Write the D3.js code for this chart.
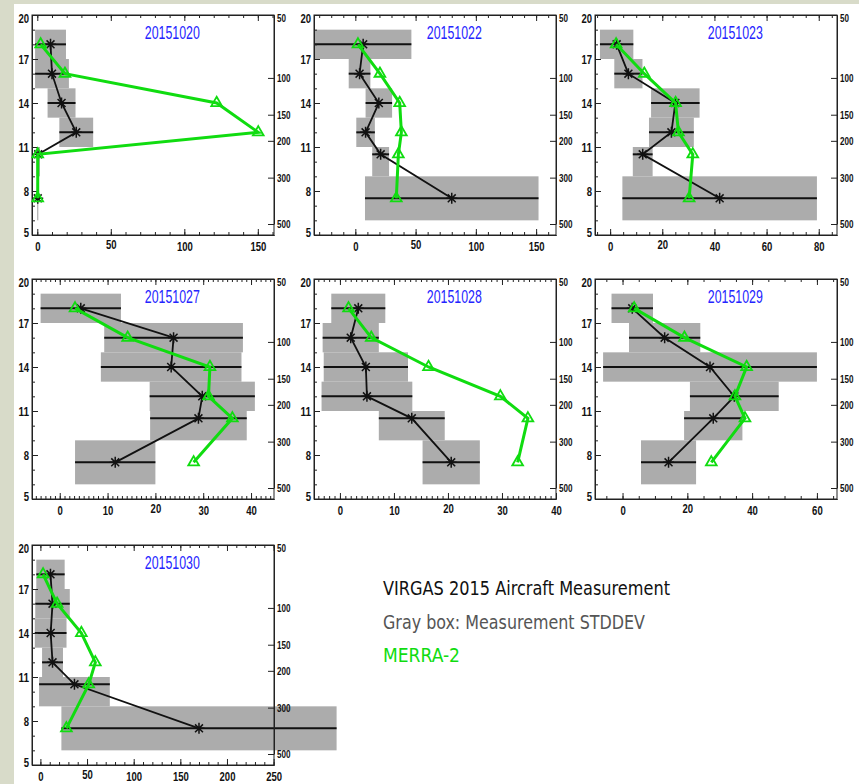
<!DOCTYPE html>
<html>
<head>
<meta charset="utf-8">
<script src="https://cdn.jsdelivr.net/npm/d3@7"></script>
<style>
body{margin:0;background:#fff;}
svg{display:block;}
</style>
</head>
<body>
<main></main>
<script>
// profiles: one row per flight day, one value per altitude level
var dates = ["20151020", "20151022", "20151023", "20151027", "20151028", "20151029", "20151030"];
var altitudes = [18, 16, 14, 12, 10.5, 7.5];
var layerLow = [17, 15, 13, 11, 9, 6];
var layerHigh = [19, 17, 15, 13, 11, 9];

var obsMean = [
  [9, 10, 16.5, 26.5, 0.6, 0.3],
  [6.5, 3.5, 19.5, 8.5, 21, 80],
  [2.5, 7, 25, 23.5, 12.5, 42],
  [4.4, 23.8, 23.3, 29.8, 29, 11.6],
  [3.4, 2, 4.8, 5, 13.3, 20.6],
  [3, 13, 27, 34.5, 28, 14.2],
  [10.8, 13, 11, 13, 36.5, 170]
];
var obsStd = [
  [10.5, 11.5, 9.5, 11.5, 1.2, 0.4],
  [40, 9, 11, 7.7, 7, 72],
  [6.4, 5.4, 9.3, 8.6, 3.8, 37.3],
  [8.4, 14.5, 14.7, 11, 10.1, 8.4],
  [5, 5.2, 7.8, 8.4, 6.1, 5.3],
  [6.4, 11, 33, 13.7, 9, 8.5],
  [15.2, 18.5, 17, 11.2, 37.9, 147.5]
];
var merra = [
  [2.3, 18.8, 122, 150.3, 0.3, 0.3],
  [2.2, 20.4, 36.8, 38.2, 35.7, 34],
  [2.3, 13.1, 25.1, 26.2, 31.7, 30.3],
  [3.2, 14.2, 31.4, 31.1, 36.1, 28],
  [1.6, 5.8, 16.4, 29.7, 34.8, 32.9],
  [3.6, 19.1, 38.3, 34.7, 37.8, 27.4],
  [2.9, 17.9, 43.9, 58.9, 51.8, 27.9]
];

var xMin = [-3.6, -34.3, -5.8, -5.8, -4.8, -8.5, -9];
var xMax = [161, 166.5, 87, 44.8, 40, 66.2, 250.4];
var xTicks = [
  [0, 50, 100, 150],
  [0, 50, 100, 150],
  [0, 20, 40, 60, 80],
  [0, 10, 20, 30, 40],
  [0, 10, 20, 30, 40],
  [0, 20, 40, 60],
  [0, 50, 100, 150, 200, 250]
];
var xMinorStep = [10, 10, 5, 1, 1, 5, 10];
var altTicks = [5, 8, 11, 14, 17, 20];
var presTicks = [50, 100, 150, 200, 300, 500];

var legendLines = ["VIRGAS 2015 Aircraft Measurement", "Gray box: Measurement STDDEV", "MERRA-2"];

var W = 859, H = 784;
var pw = 242, ph = 220;
var lefts = [32, 314, 595];
var tops = [15, 279, 545];
var green = "#10dc10";
var tickFont = "'Liberation Sans',Arial,sans-serif";
var legFont = "'DejaVu Sans Condensed','DejaVu Sans',sans-serif";

var svg = d3.select("main").append("svg")
  .attr("width", W).attr("height", H);

svg.append("rect").attr("width", W).attr("height", H).attr("fill", "#d8dbc9");
svg.append("rect").attr("x", 14).attr("y", 4).attr("width", W - 14).attr("height", H - 4).attr("fill", "#fff");

var star = function(r){
  var d = r * 0.72;
  return "M0," + (-r) + "V" + r + "M" + (-r) + ",0H" + r +
         "M" + (-d) + "," + (-d) + "L" + d + "," + d + "M" + (-d) + "," + d + "L" + d + "," + (-d);
};

dates.forEach(function(date, p){
  var left = lefts[p % 3], top = tops[Math.floor(p / 3)];
  var g = svg.append("g").attr("transform", "translate(" + left + "," + top + ")");

  var x = d3.scaleLinear().domain([xMin[p], xMax[p]]).range([0, pw]);
  var y = d3.scaleLinear().domain([5, 20]).range([ph, 0]);
  var yp = d3.scaleLog().domain([50, 500]).range([0, ph * 0.95]);

  var rows = altitudes.map(function(a, i){
    return {alt: a, lo: layerLow[i], hi: layerHigh[i], m: obsMean[p][i], s: obsStd[p][i], g: merra[p][i]};
  });

  // gray std boxes
  g.selectAll("rect.box").data(rows).enter().append("rect")
    .attr("class", "box")
    .attr("x", function(d){ return x(d.m - d.s); })
    .attr("width", function(d){ return x(d.m + d.s) - x(d.m - d.s); })
    .attr("y", function(d){ return y(d.hi); })
    .attr("height", function(d){ return y(d.lo) - y(d.hi); })
    .attr("fill", "#acacac");

  g.selectAll("line.sd").data(rows).enter().append("line")
    .attr("class", "sd")
    .attr("x1", function(d){ return x(d.m - d.s); })
    .attr("x2", function(d){ return x(d.m + d.s); })
    .attr("y1", function(d){ return y(d.alt); })
    .attr("y2", function(d){ return y(d.alt); })
    .attr("stroke", "#111").attr("stroke-width", 2);

  // axes
  var minors = d3.range(Math.ceil(xMin[p] / xMinorStep[p]) * xMinorStep[p], xMax[p], xMinorStep[p]);
  var altMinor = d3.range(5, 20.01, 1);

  g.append("g").attr("transform", "translate(0," + ph + ")")
    .call(d3.axisBottom(x).tickValues(minors).tickSize(-3).tickSizeOuter(0).tickFormat(""));
  g.append("g").attr("transform", "translate(0," + ph + ")")
    .call(d3.axisBottom(x).tickValues(xTicks[p]).tickSize(-6).tickSizeOuter(0).tickPadding(7).tickFormat(d3.format("d")))
    .attr("class", "lab");
  g.append("g")
    .call(d3.axisTop(x).tickValues(minors).tickSize(-3).tickSizeOuter(0).tickFormat(""));
  g.append("g")
    .call(d3.axisTop(x).tickValues(xTicks[p]).tickSize(-6).tickSizeOuter(0).tickFormat(""));
  g.append("g")
    .call(d3.axisLeft(y).tickValues(altMinor).tickSize(-3).tickSizeOuter(0).tickFormat(""));
  g.append("g")
    .call(d3.axisLeft(y).tickValues(altTicks).tickSize(-6).tickSizeOuter(0).tickPadding(3))
    .attr("class", "lab");
  g.append("g").attr("transform", "translate(" + pw + ",0)")
    .call(d3.axisRight(yp).tickValues(presTicks).tickSize(-6).tickSizeOuter(0).tickPadding(3).tickFormat(d3.format("d")))
    .attr("class", "lab right");
  g.append("rect").attr("width", pw).attr("height", ph)
    .attr("fill", "none").attr("stroke", "#222");

  g.selectAll(".domain").attr("stroke", "#222");
  g.selectAll(".tick line").attr("stroke", "#222");
  g.selectAll(".lab text")
    .style("font-family", tickFont).style("font-weight", "bold").style("font-size", "13px").attr("fill", "#111")
    .attr("textLength", function(){ return this.textContent.length * 5.3; })
    .attr("lengthAdjust", "spacingAndGlyphs");
  g.selectAll(".right text")
    .style("font-size", "11px")
    .attr("textLength", function(){ return this.textContent.length * 4.5; });
  // keep end labels inside the frame like the original
  g.selectAll(".lab .tick").each(function(d){
    var t = d3.select(this).select("text");
    if (d === 20 || d === 50) t.attr("dy", "0.55em");
    if (d === 5) t.attr("dy", "0.15em");
  });

  // observed profile
  var line = d3.line().x(function(d){ return x(d.v); }).y(function(d){ return y(d.alt); });
  g.append("path")
    .datum(rows.map(function(d){ return {alt: d.alt, v: d.m}; }))
    .attr("d", line).attr("fill", "none").attr("stroke", "#111").attr("stroke-width", 1.8);
  g.selectAll("path.star").data(rows).enter().append("path")
    .attr("class", "star")
    .attr("transform", function(d){ return "translate(" + x(d.m) + "," + y(d.alt) + ")"; })
    .attr("d", star(5.5)).attr("stroke", "#111").attr("stroke-width", 1.5).attr("fill", "none");

  // MERRA-2 profile
  g.append("path")
    .datum(rows.map(function(d){ return {alt: d.alt, v: d.g}; }))
    .attr("d", line).attr("fill", "none").attr("stroke", green).attr("stroke-width", 3);
  g.selectAll("path.tri").data(rows).enter().append("path")
    .attr("class", "tri")
    .attr("transform", function(d){ return "translate(" + x(d.g) + "," + y(d.alt) + ")"; })
    .attr("d", d3.symbol().type(d3.symbolTriangle).size(50))
    .attr("fill", "none").attr("stroke", green).attr("stroke-width", 1.8);

  g.append("text")
    .attr("x", pw * 0.58).attr("y", 24)
    .attr("text-anchor", "middle")
    .attr("textLength", 55).attr("lengthAdjust", "spacingAndGlyphs")
    .style("font-family", tickFont).style("font-size", "17.5px")
    .attr("fill", "#2424ff")
    .text(date);
});

// legend text block
var legendColors = ["#111", "#555", green];
var legendWidth = [287, 262, 77];
var legendBase = [595, 629, 662];
svg.selectAll("text.leg").data(legendLines).enter().append("text")
  .attr("class", "leg")
  .attr("x", 383)
  .attr("y", function(d, i){ return legendBase[i]; })
  .attr("textLength", function(d, i){ return legendWidth[i]; })
  .attr("lengthAdjust", "spacingAndGlyphs")
  .style("font-family", legFont).style("font-size", "20px")
  .attr("fill", function(d, i){ return legendColors[i]; })
  .text(function(d){ return d; });
</script>
</body>
</html>
